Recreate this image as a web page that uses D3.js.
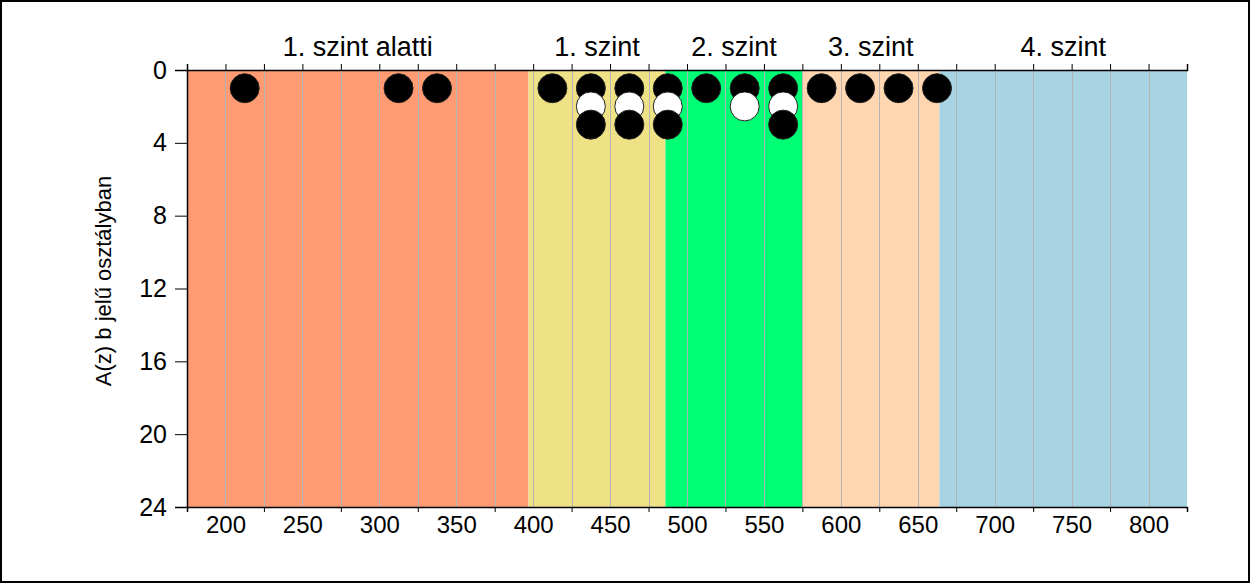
<!DOCTYPE html>
<html>
<head>
<meta charset="utf-8">
<script src="https://cdn.jsdelivr.net/npm/d3@7/dist/d3.min.js"></script>
<style>
html, body { margin: 0; padding: 0; background: #fff; }
svg { display: block; font-family: "Liberation Sans", Arial, sans-serif; }
</style>
</head>
<body>
<svg id="chart" width="1250" height="583"></svg>
<script>
// ---- data ----
const bandNames = ["1. szint alatti", "1. szint", "2. szint", "3. szint", "4. szint"];
const bandStarts = [175, 397, 486, 575, 664];
const bandEnds = [397, 486, 575, 664, 825];
const bandColors = ["#FF9B72", "#EEE186", "#00FF74", "#FFD6B0", "#A8D3E2"];

const xTickLabels = [200, 250, 300, 350, 400, 450, 500, 550, 600, 650, 700, 750, 800];
const yTickLabels = [0, 4, 8, 12, 16, 20, 24];

// black points (score bin centre, stack position)
const blackX = [212.5, 312.5, 337.5, 412.5, 437.5, 437.5, 462.5, 462.5, 487.5, 487.5, 512.5, 537.5, 562.5, 562.5, 587.5, 612.5, 637.5, 662.5];
const blackY = [1, 1, 1, 1, 1, 3, 1, 3, 1, 3, 1, 1, 1, 3, 1, 1, 1, 1];
// white points
const whiteX = [437.5, 462.5, 487.5, 537.5, 562.5];
const whiteY = [2, 2, 2, 2, 2];

const yTitle = "A(z) b jelű osztályban";

// ---- layout ----
const svg = d3.select("#chart");
const L = 187, R = 1187, T = 70, B = 507;
const x = d3.scaleLinear().domain([175, 825]).range([L, R]);
const y = d3.scaleLinear().domain([0, 24]).range([T, B]);
const FONT = "'Liberation Sans', Arial, sans-serif";

// border
svg.append("rect").attr("x", 1).attr("y", 1).attr("width", 1248).attr("height", 581)
  .attr("fill", "#fff").attr("stroke", "#000").attr("stroke-width", 2);

// bands
svg.append("g").selectAll("rect").data(bandNames).join("rect")
  .attr("x", (d, i) => x(bandStarts[i]))
  .attr("y", T)
  .attr("width", (d, i) => x(bandEnds[i]) - x(bandStarts[i]))
  .attr("height", B - T)
  .attr("fill", (d, i) => bandColors[i]);

// vertical gridlines every 25
const gridVals = d3.range(200, 825, 25);
svg.append("g").selectAll("line").data(gridVals).join("line")
  .attr("x1", d => Math.round(x(d)) + 0.5).attr("x2", d => Math.round(x(d)) + 0.5)
  .attr("y1", T).attr("y2", B)
  .attr("stroke", "#B4B4B4").attr("stroke-width", 1);

// band labels
svg.append("g").selectAll("text").data(bandNames).join("text")
  .attr("x", (d, i) => (x(bandStarts[i]) + x(bandEnds[i])) / 2)
  .attr("y", 56)
  .attr("text-anchor", "middle")
  .attr("font-size", 27)
  .attr("font-family", FONT)
  .attr("fill", "#000")
  .text(d => d);

// top axis with ticks every 25
const topAxis = d3.axisTop(x).tickValues(d3.range(175, 826, 25)).tickSize(6).tickFormat("");
svg.append("g").attr("transform", `translate(0,${T})`).call(topAxis)
  .call(g => g.select(".domain").attr("stroke", "#000").attr("stroke-width", 1.5))
  .call(g => g.selectAll(".tick line").attr("stroke", "#000"));

// bottom axis: small ticks at odd 25s, labels at 50s
const botTicks = d3.axisBottom(x).tickValues(d3.range(175, 826, 50)).tickSize(5).tickFormat("");
svg.append("g").attr("transform", `translate(0,${B})`).call(botTicks)
  .call(g => g.select(".domain").attr("stroke", "#000").attr("stroke-width", 1.5))
  .call(g => g.selectAll(".tick line").attr("stroke", "#000"));
const botLabels = d3.axisBottom(x).tickValues(xTickLabels).tickSize(0).tickPadding(9);
svg.append("g").attr("transform", `translate(0,${B})`).call(botLabels)
  .call(g => g.select(".domain").remove())
  .call(g => g.selectAll("text").attr("font-size", 24).attr("fill", "#000")
    .attr("font-family", FONT));

// left axis
const leftAxis = d3.axisLeft(y).tickValues(yTickLabels).tickSize(12).tickPadding(8);
svg.append("g").attr("transform", `translate(${L},0)`).call(leftAxis)
  .call(g => g.select(".domain").attr("stroke", "#000").attr("stroke-width", 1.5))
  .call(g => g.selectAll(".tick line").attr("stroke", "#000"))
  .call(g => g.selectAll("text").attr("font-size", 25).attr("fill", "#000")
    .attr("font-family", FONT));

// y title
svg.append("text")
  .attr("transform", `translate(111,281) rotate(-90)`)
  .attr("text-anchor", "middle")
  .attr("font-size", 22)
  .attr("font-family", FONT)
  .attr("fill", "#000")
  .text(yTitle);

// points: merge and draw in order of stack position
const pts = blackX.map((v, i) => ({ x: v, y: blackY[i], fill: "#000" }))
  .concat(whiteX.map((v, i) => ({ x: v, y: whiteY[i], fill: "#fff" })))
  .sort((a, b) => a.y - b.y);
svg.append("g").selectAll("circle").data(pts).join("circle")
  .attr("cx", d => x(d.x))
  .attr("cy", d => y(d.y))
  .attr("r", 14.5)
  .attr("fill", d => d.fill)
  .attr("stroke", "#222")
  .attr("stroke-width", 1);
</script>
</body>
</html>
